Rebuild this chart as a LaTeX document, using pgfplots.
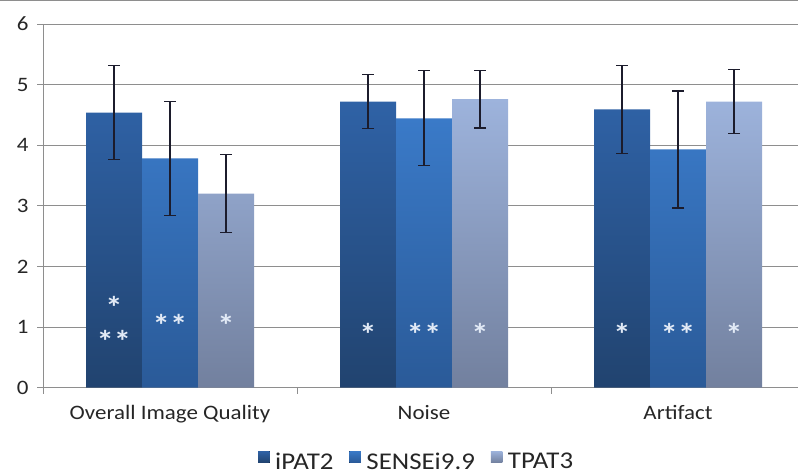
\documentclass[border=0pt]{standalone}
\usepackage{pgfplots}
\pgfplotsset{compat=1.18}
\usepackage{fontspec}
\setmainfont{Carlito}[FakeStretch=1.12]
\definecolor{caT}{HTML}{2F62A6}
\definecolor{caB}{HTML}{21436F}
\definecolor{cbT}{HTML}{3A7AC8}
\definecolor{cbB}{HTML}{2A5A98}
\definecolor{ccT}{HTML}{9DB3DC}
\definecolor{ccB}{HTML}{72809E}
\definecolor{gridc}{HTML}{8E8E8E}
\definecolor{txt}{HTML}{262626}
\definecolor{errc}{HTML}{1C1C2C}
\definecolor{star}{HTML}{E2EAF6}
\begin{document}
\begin{tikzpicture}[x=1pt,y=1pt]
\path[use as bounding box] (0,0) rectangle (798,474);
\draw[gridc, line width=2pt] (0,474) -- (798,474);
\begin{axis}[
  at={(43pt,86.3pt)}, anchor=south west,
  scale only axis, width=755pt, height=363.7pt,
  ybar=0pt, bar width=56pt,
  xmin=-0.5, xmax=2.4724, ymin=0, ymax=6,
  ytick={0,1,2,3,4,5,6},
  xtick={-0.5,0.5,1.5}, xticklabels={},
  extra x ticks={0,1,2},
  extra x tick labels={Overall Image Quality,Noise,Artifact},
  extra x tick style={major tick length=0pt, grid=none},
  axis lines*=left,
  axis line style={gridc, line width=1pt},
  tick align=outside, major tick length=6pt,
  tick style={gridc, line width=1pt},
  ymajorgrids, grid style={gridc, line width=1pt},
  /pgf/number format/assume math mode=true,
  tick label style={font=\fontsize{20.5}{24}\selectfont, text=txt},
  xticklabel style={yshift=-14pt},
  yticklabel style={xshift=-5pt},
  clip=false,
  legend style={at={(0.487,-0.203)}, anchor=center, draw=none, fill=none,
    legend columns=3, column sep=2pt, font=\fontsize{24}{26}\selectfont, text=txt},
  error bars/y dir=both, error bars/y explicit,
  error bars/error bar style={errc, line width=1.1pt},
  error bars/error mark options={rotate=90, mark size=6pt, errc, line width=1.1pt},
  mylegend/.style={legend image code/.code={%
    \path (-12pt,0pt) -- (13pt,0pt);
    \fill[##1] (0pt,-1pt) rectangle (11.5pt,10.5pt);}},
]
\addplot[draw=none, top color=caT, bottom color=caB, mylegend] coordinates {
  (0,4.54) +- (0,0.78)
  (1,4.72) +- (0,0.45)
  (2,4.59) +- (0,0.73)
};
\addplot[draw=none, top color=cbT, bottom color=cbB, mylegend] coordinates {
  (0,3.785) +- (0,0.94)
  (1,4.445) +- (0,0.785)
  (2,3.93) +- (0,0.965)
};
\addplot[draw=none, top color=ccT, bottom color=ccB, mylegend] coordinates {
  (0,3.20) +- (0,0.645)
  (1,4.76) +- (0,0.475)
  (2,4.72) +- (0,0.525)
};
\legend{iPAT2,SENSEi9.9,TPAT3}
\begin{scope}[every node/.style={text=star, font=\fontsize{31}{31}\selectfont\bfseries, yshift=-6pt}]
\node at (axis cs:-0.2205,1.42) {*};
\node at (axis cs:-0.2205,0.87) {**};
\node at (axis cs:0,1.13) {**};
\node at (axis cs:0.2205,1.13) {*};
\node at (axis cs:0.7795,0.98) {*};
\node at (axis cs:1,0.98) {**};
\node at (axis cs:1.2205,0.98) {*};
\node at (axis cs:1.7795,0.98) {*};
\node at (axis cs:2,0.98) {**};
\node at (axis cs:2.2205,0.98) {*};
\end{scope}
\end{axis}
\end{tikzpicture}
\end{document}
